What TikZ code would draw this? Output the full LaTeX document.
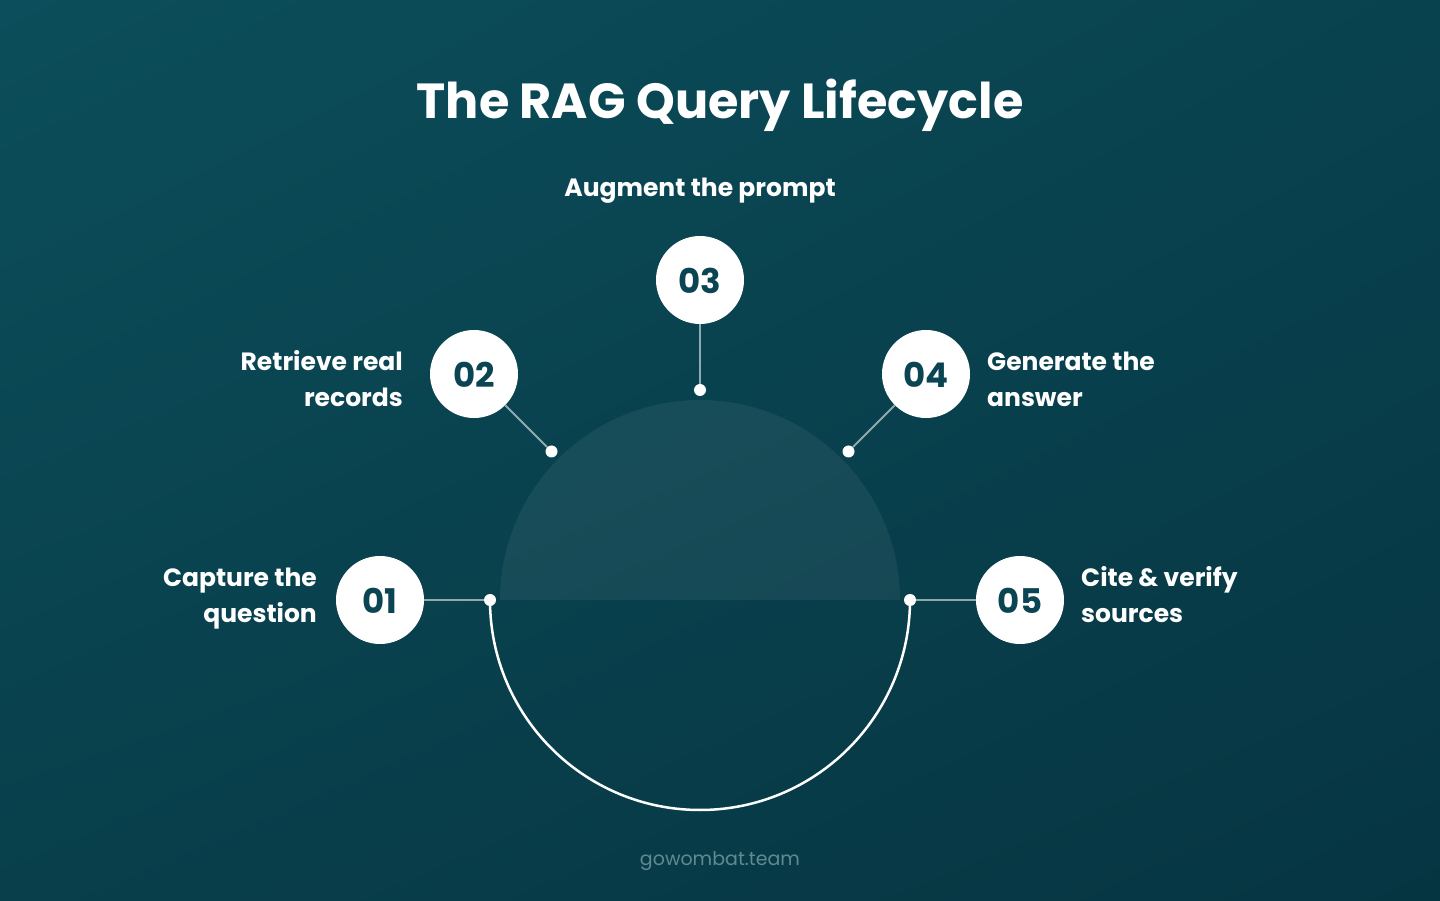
\documentclass[tikz,border=0pt]{standalone}
\usepackage{fontspec}
\setmainfont{Poppins}[BoldFont={Poppins Bold}]
\usetikzlibrary{shadings}
\definecolor{bgA}{HTML}{0C4E5B}
\definecolor{bgB}{HTML}{063542}
\definecolor{bgC}{HTML}{09424F}
\definecolor{bgD}{HTML}{083F4B}
\definecolor{numcol}{HTML}{0B4452}
\definecolor{footcol}{HTML}{5F8A92}
\begin{document}
\begin{tikzpicture}[x=1pt,y=1pt,
  stepcircle/.style={circle,fill=white,minimum size=88pt,inner sep=0pt,text=numcol,text height=28pt,text depth=0pt,font=\fontsize{34}{34}\selectfont\bfseries},
  dotnode/.style={circle,fill=white,minimum size=12pt,inner sep=0pt},
  link/.style={draw=white,draw opacity=0.55,line width=1.8pt},
  label/.style={text=white,inner sep=0pt,font=\fontsize{25}{36}\selectfont\bfseries}
]
\useasboundingbox (0,0) rectangle (1440,900);
\shade[upper left=bgA,upper right=bgC,lower left=bgD,lower right=bgB] (0,0) rectangle (1440,900);

% half disc and arc
\fill[white,opacity=0.06] (500,300) arc[start angle=180,end angle=0,radius=200] -- cycle;
\draw[white,line width=2.5pt] (490,300) arc[start angle=180,end angle=360,radius=210];

% title
\node[text=white,inner sep=0pt,font=\fontsize{49.3}{49.3}\selectfont\bfseries] (title) at (720,795) {The RAG Query Lifecycle};

% dots
\node[dotnode] (d1) at (490,300) {};
\node[dotnode] (d2) at (551.5,448.5) {};
\node[dotnode] (d3) at (700,510) {};
\node[dotnode] (d4) at (848.5,448.5) {};
\node[dotnode] (d5) at (910,300) {};

% circles
\node[stepcircle] (c1) at (380,300) {01};
\node[stepcircle] (c2) at (474,526) {02};
\node[stepcircle] (c3) at (700,620) {03};
\node[stepcircle] (c4) at (926,526) {04};
\node[stepcircle] (c5) at (1020,300) {05};

% connectors
\draw[link] (c1) -- (d1);
\draw[link] (c2) -- (d2);
\draw[link] (c3) -- (d3);
\draw[link] (c4) -- (d4);
\draw[link] (c5) -- (d5);

% labels
\node[label,anchor=east,align=right] (l1) at (317,301) {Capture the\\question};
\node[label,anchor=east,align=right] (l2) at (403,521) {Retrieve real\\records};
\node[label,anchor=center] (l3) at (700,709) {Augment the prompt};
\node[label,anchor=west,align=left] (l4) at (987,521) {Generate the\\answer};
\node[label,anchor=west,align=left] (l5) at (1081,305) {Cite \& verify\\sources};

% footer
\node[text=footcol,inner sep=0pt,font=\fontsize{19}{19}\selectfont] (foot) at (720,39) {gowombat.team};
\end{tikzpicture}
\end{document}
